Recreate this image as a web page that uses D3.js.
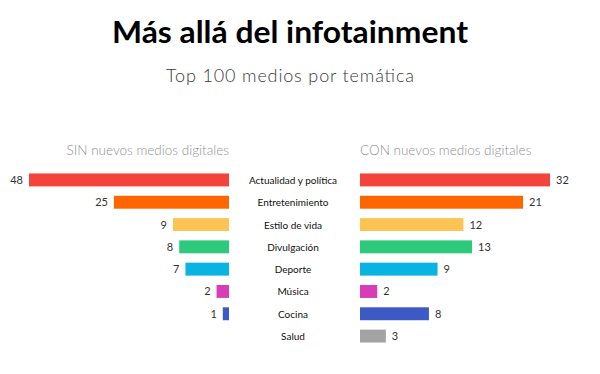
<!DOCTYPE html>
<html><head><meta charset="utf-8">
<script src="https://cdn.jsdelivr.net/npm/d3@7"></script>
<style>body{margin:0;background:#fff}svg{display:block}</style>
</head><body>
<svg id="c" width="600" height="374"></svg>
<script>
const categories = ["Actualidad y política","Entretenimiento","Estilo de vida","Divulgación","Deporte","Música","Cocina","Salud"];
const sinValues = [48,25,9,8,7,2,1,null];
const conValues = [32,21,12,13,9,2,8,3];
const colors = ["#f4433a","#ff6600","#fdc453","#2dca7c","#0ab4e2","#d73db6","#3d5ac4","#a3a3a3"];
const title = "Más allá del infotainment";
const subtitle = "Top 100 medios por temática";
const sinLabel = "SIN nuevos medios digitales";
const conLabel = "CON nuevos medios digitales";

const svg = d3.select("#c");
const font = "'Lato','Open Sans',sans-serif";

svg.append("text").attr("x",290).attr("y",43).attr("text-anchor","middle")
  .attr("font-family",font).attr("font-weight",700).attr("font-size",30)
  .attr("fill","#000").attr("textLength",356).attr("lengthAdjust","spacingAndGlyphs").text(title);
svg.append("text").attr("x",290).attr("y",82).attr("text-anchor","middle")
  .attr("font-family",font).attr("font-weight",300).attr("font-size",18)
  .attr("fill","#3a3a3a").attr("textLength",248).attr("lengthAdjust","spacing").text(subtitle);

const y = d3.scaleBand().domain(categories).range([169,347]).paddingInner(0.42).paddingOuter(0.2);
// bar lengths in the original are not strictly proportional; polylinear scales reproduce them
const xl = d3.scaleLinear().domain([0,9,48]).range([229,173,29]);
const xr = d3.scaleLinear().domain([0,13,21,32]).range([360,472,523,550]);

svg.append("text").attr("x",229).attr("y",155).attr("text-anchor","end")
  .attr("font-family",font).attr("font-weight",300).attr("font-size",13.5).attr("fill","#8f8f8f").text(sinLabel);
svg.append("text").attr("x",360).attr("y",155).attr("text-anchor","start")
  .attr("font-family",font).attr("font-weight",300).attr("font-size",13.5).attr("fill","#8f8f8f").text(conLabel);

const rows = categories.map((c,i)=>({c, s:sinValues[i], r:conValues[i], col:colors[i]}));

svg.selectAll(".lb").data(rows.filter(d=>d.s!=null)).join("rect")
  .attr("x",d=>xl(d.s)).attr("width",d=>xl(0)-xl(d.s))
  .attr("y",d=>y(d.c)).attr("height",y.bandwidth()).attr("fill",d=>d.col);
svg.selectAll(".lv").data(rows.filter(d=>d.s!=null)).join("text")
  .attr("x",d=>xl(d.s)-6).attr("y",d=>y(d.c)+y.bandwidth()/2+4).attr("text-anchor","end")
  .attr("font-family",font).attr("font-size",11).attr("fill","#333").text(d=>d.s);

svg.selectAll(".rb").data(rows).join("rect")
  .attr("x",xr(0)).attr("width",d=>xr(d.r)-xr(0))
  .attr("y",d=>y(d.c)).attr("height",y.bandwidth()).attr("fill",d=>d.col);
svg.selectAll(".rv").data(rows).join("text")
  .attr("x",d=>xr(d.r)+6).attr("y",d=>y(d.c)+y.bandwidth()/2+4).attr("text-anchor","start")
  .attr("font-family",font).attr("font-size",11).attr("fill","#333").text(d=>d.r);

svg.selectAll(".cl").data(rows).join("text")
  .attr("x",293).attr("y",d=>y(d.c)+y.bandwidth()/2+4).attr("text-anchor","middle")
  .attr("font-family",font).attr("font-size",10).attr("fill","#111").text(d=>d.c);
</script>
</body></html>
